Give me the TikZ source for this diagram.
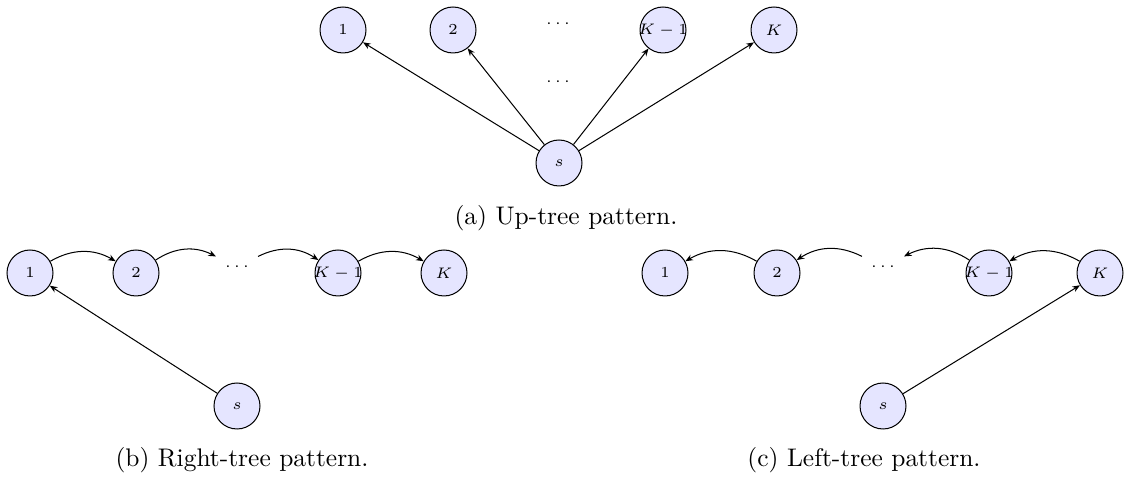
\documentclass[tikz,border=0pt]{standalone}
\usetikzlibrary{arrows.meta}
\begin{document}
\begin{tikzpicture}[x=0.01381cm,y=-0.01381cm,>={Stealth[length=3pt,width=2.4pt]},
    vertex/.style={circle,draw,fill=blue!10,minimum size=0.635cm,inner sep=0pt,font=\fontsize{6.1}{7}\selectfont},
    gap/.style={circle,minimum size=0.635cm,inner sep=0pt,font=\fontsize{6.1}{7}\selectfont}]
  \useasboundingbox (0,0) rectangle (1133,478);
  % (a) up-tree
  \node[vertex] (a1) at (343,30) {$1$};
  \node[vertex] (a2) at (453,30) {$2$};
  \node[gap] (adots) at (558,24) {$\cdots$};
  \node[vertex] (aKm) at (663,30) {\makebox[0pt]{$K-1$}};
  \node[vertex] (aK) at (774,30) {$K$};
  \node[gap] (amid) at (558,82) {$\cdots$};
  \node[vertex] (as) at (559,163) {$s$};
  \foreach \t in {a1,a2,aKm,aK}
    \draw[->] (as) -- (\t);
  \node[anchor=base] (capa) at (566,225) {(a) Up-tree pattern.};
  % (b) right-tree
  \node[vertex] (b1) at (30,273) {$1$};
  \node[vertex] (b2) at (136,273) {$2$};
  \node[gap] (bdots) at (237,267) {$\cdots$};
  \node[vertex] (bKm) at (338,273) {\makebox[0pt]{$K-1$}};
  \node[vertex] (bK) at (444,273) {$K$};
  \node[vertex] (bs) at (237,406) {$s$};
  \draw[->] (b1) to[bend left=30] (b2);
  \draw[->] (b2) to[bend left=30] (bdots);
  \draw[->] (bdots) to[bend left=30] (bKm);
  \draw[->] (bKm) to[bend left=30] (bK);
  \draw[->] (bs) -- (b1);
  \node[anchor=base] (capb) at (242,467) {(b) Right-tree pattern.};
  % (c) left-tree
  \node[vertex] (c1) at (665,273) {$1$};
  \node[vertex] (c2) at (777,273) {$2$};
  \node[gap] (cdots) at (883,267) {$\cdots$};
  \node[vertex] (cKm) at (989,273) {\makebox[0pt]{$K-1$}};
  \node[vertex] (cK) at (1100,273) {$K$};
  \node[vertex] (cs) at (883,406) {$s$};
  \draw[->] (cK) to[bend right=30] (cKm);
  \draw[->] (cKm) to[bend right=30] (cdots);
  \draw[->] (cdots) to[bend right=30] (c2);
  \draw[->] (c2) to[bend right=30] (c1);
  \draw[->] (cs) -- (cK);
  \node[anchor=base] (capc) at (864,467) {(c) Left-tree pattern.};
\end{tikzpicture}
\end{document}
